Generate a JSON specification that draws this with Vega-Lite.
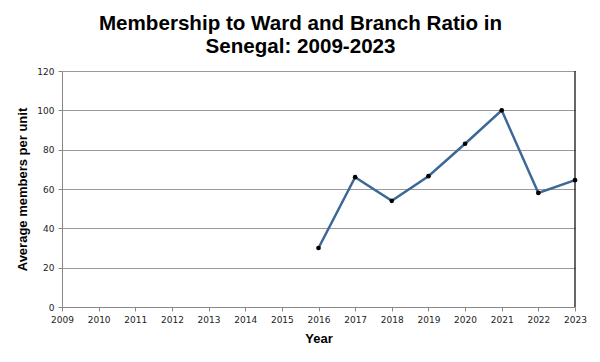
{
  "$schema": "https://vega.github.io/schema/vega-lite/v6.json",
  "autosize": "none",
  "width": 513,
  "height": 236,
  "padding": {"left": 62, "top": 71, "right": 25, "bottom": 55},
  "background": "white",
  "title": {
    "text": ["Membership to Ward and Branch Ratio in", "Senegal: 2009-2023"],
    "font": "Liberation Sans",
    "fontSize": 20.6,
    "fontWeight": "bold",
    "color": "black",
    "anchor": "middle",
    "frame": "group",
    "lineHeight": 23,
    "offset": 9,
    "dx": -18
  },
  "config": {
    "view": {"stroke": null},
    "axis": {"labelFont": "DejaVu Sans", "titleFont": "Liberation Sans", "labelOverlap": false, "labelFlush": false}
  },
  "data": {
    "values": [
      {"Year": 2016, "Members": 30},
      {"Year": 2017, "Members": 66},
      {"Year": 2018, "Members": 54},
      {"Year": 2019, "Members": 66.5},
      {"Year": 2020, "Members": 83},
      {"Year": 2021, "Members": 100},
      {"Year": 2022, "Members": 58},
      {"Year": 2023, "Members": 64.5}
    ]
  },
  "layer": [
    {
      "mark": {"type": "line", "color": "#3d6797", "strokeWidth": 2.5},
      "encoding": {
        "x": {
          "field": "Year",
          "type": "quantitative",
          "scale": {"domain": [2009, 2023], "nice": false, "zero": false},
          "axis": {
            "title": "Year",
            "values": [2009, 2010, 2011, 2012, 2013, 2014, 2015, 2016, 2017, 2018, 2019, 2020, 2021, 2022, 2023],
            "tickCount": 30,
            "format": "d",
            "grid": false,
            "labelOverlap": false,
            "labelFlush": false,
            "labelFontSize": 9,
            "labelColor": "#222",
            "labelPadding": 4,
            "tickSize": 4,
            "tickColor": "#888",
            "domainColor": "#888",
            "titleFontSize": 13,
            "titleFontWeight": "bold",
            "titleColor": "black",
            "titlePadding": 8
          }
        },
        "y": {
          "field": "Members",
          "type": "quantitative",
          "scale": {"domain": [0, 120], "nice": false},
          "axis": {
            "title": "Average members per unit",
            "values": [0, 20, 40, 60, 80, 100, 120],
            "tickCount": 20,
            "grid": true,
            "gridColor": "#9a9a9a",
            "gridWidth": 1,
            "labelOverlap": false,
            "labelFlush": false,
            "labelFontSize": 9,
            "labelColor": "#222",
            "labelPadding": 4,
            "tickSize": 4,
            "tickColor": "#888",
            "domainColor": "#888",
            "titleFontSize": 13,
            "titleFontWeight": "bold",
            "titleColor": "black",
            "titlePadding": 7
          }
        }
      }
    },
    {
      "data": {"values": [{"edge": 2023, "lo": 0, "hi": 120}]},
      "mark": {"type": "rule", "color": "black", "strokeWidth": 1.2},
      "encoding": {
        "x": {"field": "edge", "type": "quantitative"},
        "y": {"field": "lo", "type": "quantitative"},
        "y2": {"field": "hi"}
      }
    },
    {
      "mark": {"type": "circle", "color": "black", "size": 22, "opacity": 1},
      "encoding": {
        "x": {"field": "Year", "type": "quantitative"},
        "y": {"field": "Members", "type": "quantitative"}
      }
    }
  ]
}
